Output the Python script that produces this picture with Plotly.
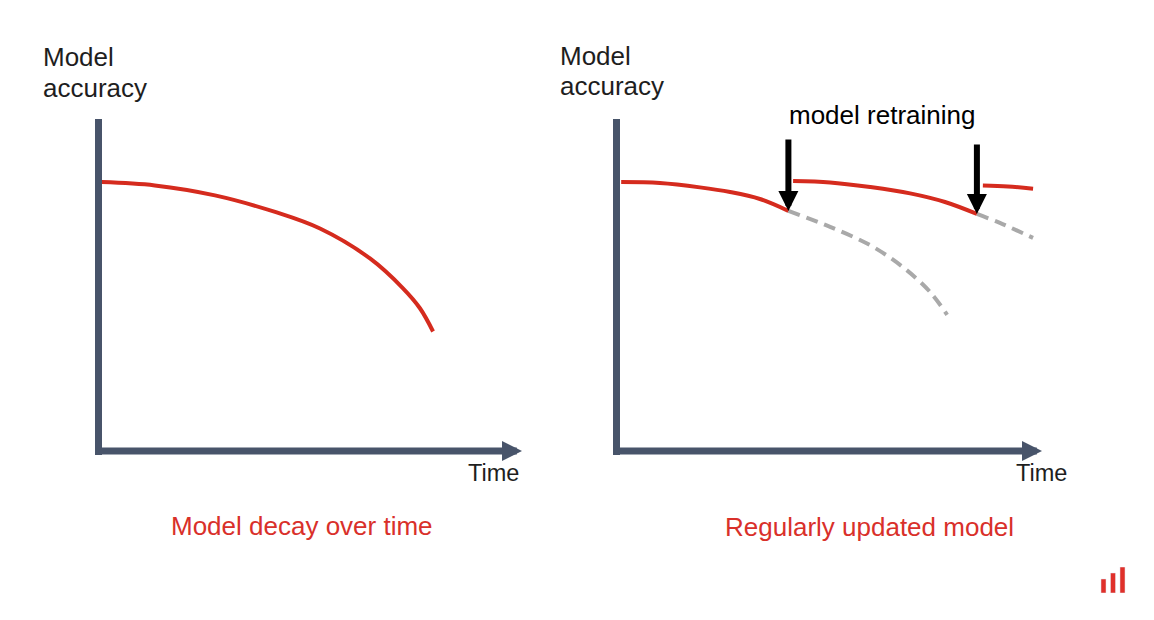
import plotly.graph_objects as go

# ---------------- data (time units 0..10, accuracy 0..1) ----------------
decay_time = [0.08, 1.33, 2.75, 4.17, 5.23, 6.41, 7.19, 7.59, 7.90]
decay_acc = [0.81, 0.80, 0.77, 0.72, 0.67, 0.58, 0.49, 0.43, 0.36]

upd1_time = [0.11, 1.02, 1.96, 2.67, 3.37, 4.04]
upd1_acc = [0.810, 0.807, 0.794, 0.780, 0.759, 0.723]
upd2_time = [4.15, 5.02, 5.96, 6.90, 7.72, 8.47]
upd2_acc = [0.813, 0.809, 0.795, 0.776, 0.750, 0.714]
upd3_time = [8.61, 9.20, 9.79]
upd3_acc = [0.80, 0.797, 0.79]

old1_time = [4.04, 5.02, 5.96, 6.73, 7.37, 7.77]
old1_acc = [0.723, 0.675, 0.62, 0.554, 0.479, 0.41]
old2_time = [8.47, 9.01, 9.79]
old2_acc = [0.714, 0.687, 0.642]

retrain_time = [4.04, 8.47]
retrain_tip = [0.723, 0.714]
retrain_tail = [0.943, 0.928]

logo_cats = ["a", "b", "c"]
logo_vals = [0.54, 0.77, 1.0]

# ---------------- layout helpers ----------------
W, H = 1154, 620
RED = "#d52b1e"
TXT_RED = "#d9302a"
AXC = "#48546a"
GRAY = "#a9a9a9"
FONT = "Liberation Sans, Arial, Helvetica, sans-serif"


def xdomain(origin_px, tip_px):
    s = (tip_px - origin_px) / 10.0
    return [(origin_px - s) / W, (origin_px + 11 * s) / W]


Y0_PX, Y1_PX = 451.0, 119.0
sy = (Y0_PX - Y1_PX)
ydom = [1 - (Y0_PX + 0.1 * sy) / H, 1 - (Y1_PX - 0.1 * sy) / H]

fig = go.Figure()

redline = dict(color=RED, width=4, shape="spline")
grayline = dict(color=GRAY, width=4, dash="12px,7px", shape="spline")

fig.add_trace(go.Scatter(x=decay_time, y=decay_acc, mode="lines", line=redline,
                         xaxis="x", yaxis="y", hoverinfo="skip"))
for tx, ty in [(old1_time, old1_acc), (old2_time, old2_acc)]:
    fig.add_trace(go.Scatter(x=tx, y=ty, mode="lines", line=grayline,
                             xaxis="x2", yaxis="y2", hoverinfo="skip"))
for tx, ty in [(upd1_time, upd1_acc), (upd2_time, upd2_acc), (upd3_time, upd3_acc)]:
    fig.add_trace(go.Scatter(x=tx, y=ty, mode="lines", line=redline,
                             xaxis="x2", yaxis="y2", hoverinfo="skip"))

fig.add_trace(go.Bar(x=logo_cats, y=logo_vals, marker_color="#e0302a",
                     xaxis="x3", yaxis="y3", hoverinfo="skip"))

ax_common = dict(showgrid=False, zeroline=False, showticklabels=False,
                 showline=False, ticks="", fixedrange=True)

fig.update_layout(
    width=W, height=H,
    margin=dict(l=0, r=0, t=0, b=0),
    paper_bgcolor="white", plot_bgcolor="rgba(0,0,0,0)",
    showlegend=False,
    bargap=0.47,
    xaxis=dict(domain=xdomain(98.5, 522.0), range=[-1, 11], anchor="y", **ax_common),
    yaxis=dict(domain=ydom, range=[-0.1, 1.1], anchor="x", **ax_common),
    xaxis2=dict(domain=xdomain(616.5, 1042.0), range=[-1, 11], anchor="y2", **ax_common),
    yaxis2=dict(domain=ydom, range=[-0.1, 1.1], anchor="x2", **ax_common),
    xaxis3=dict(domain=[1098.75 / W, 1127.25 / W], anchor="y3", **ax_common),
    yaxis3=dict(domain=[1 - 593 / H, 1 - 567 / H], range=[0, 1], anchor="x3", **ax_common),
)

shapes = []
annotations = []
for xr, yr, left_t in [("x", "y", -0.083), ("x2", "y2", -0.082)]:
    # vertical axis bar
    shapes.append(dict(type="line", xref=xr, yref=yr, x0=0, x1=0, y0=-0.012, y1=1.0,
                       line=dict(color=AXC, width=7)))
    # horizontal axis arrow
    annotations.append(dict(x=10, y=0, ax=left_t, ay=0, xref=xr, yref=yr,
                            axref=xr, ayref=yr, text="", showarrow=True,
                            arrowhead=2, arrowwidth=7, arrowsize=0.571,
                            arrowcolor=AXC))

for t, tip, tail in zip(retrain_time, retrain_tip, retrain_tail):
    annotations.append(dict(x=t, y=tip, ax=t, ay=tail, xref="x2", yref="y2",
                            axref="x2", ayref="y2", text="", showarrow=True,
                            arrowhead=2, arrowwidth=6, arrowsize=0.667,
                            arrowcolor="black"))


def ptext(text, x_px, y_px, size, color, xanchor="center"):
    annotations.append(dict(text=text, x=x_px / W, y=1 - y_px / H, xref="paper",
                            yref="paper", xanchor=xanchor, yanchor="middle",
                            showarrow=False, align="left",
                            font=dict(family=FONT, size=size, color=color)))


ptext("Model", 41, 57, 26, "#1e1e1e", xanchor="left")
ptext("accuracy", 41, 88, 26, "#1e1e1e", xanchor="left")
ptext("Model", 558, 56, 26, "#1e1e1e", xanchor="left")
ptext("accuracy", 558, 86, 26, "#1e1e1e", xanchor="left")
ptext("Time", 493, 473, 23.5, "#1e1e1e")
ptext("Time", 1041.5, 473, 23.5, "#1e1e1e")
ptext("model retraining", 882, 115, 26, "#000000")
ptext("Model decay over time", 302, 526, 26, TXT_RED)
ptext("Regularly updated model", 869, 527, 26, TXT_RED)

fig.update_layout(shapes=shapes, annotations=annotations)

fig.write_html("out.html")
